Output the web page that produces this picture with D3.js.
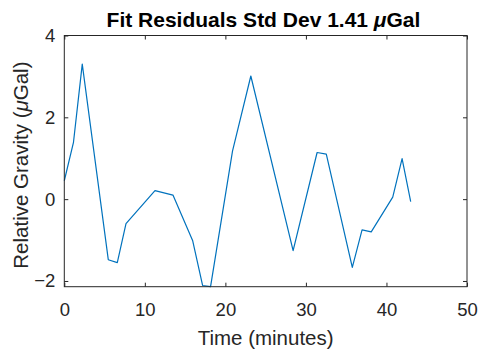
<!DOCTYPE html>
<html><head><meta charset="utf-8">
<script src="https://cdn.jsdelivr.net/npm/d3@7"></script>
<style>
body{margin:0;background:#fff;}
svg{display:block;font-family:"Liberation Sans",Arial,Helvetica,sans-serif;}
</style></head>
<body><svg id="c" width="481" height="351"></svg>
<script>
// Data
const timeMinutes = [0, 1.14, 2.23, 5.46, 6.58, 7.66, 11.26, 13.49, 15.93, 17.17, 18.16, 20.89, 23.16, 28.41, 31.39, 32.53, 35.76, 36.97, 38.11, 40.78, 41.94, 43.01];
const residuals   = [0.45, 1.39, 3.30, -1.48, -1.55, -0.60, 0.21, 0.10, -1.01, -2.11, -2.14, 1.18, 3.01, -1.26, 1.14, 1.10, -1.67, -0.75, -0.80, 0.05, 0.99, -0.06];
const xTicks = [0, 10, 20, 30, 40, 50];
const yTicks = [-2, 0, 2, 4];
const xDomain = [0, 50];
const yDomain = [-2.14, 4];

const svg = d3.select("#c");
const L = 64.3, R = 467, T = 35.5, B = 286.7;
const x = d3.scaleLinear().domain(xDomain).range([L, R]);
const y = d3.scaleLinear().domain(yDomain).range([B, T]);
const axisCol = "#262626";
const tickLen = 4;

svg.append("rect").attr("x", L).attr("y", T).attr("width", R - L).attr("height", B - T)
  .attr("fill", "#fff");

svg.append("path")
  .datum(timeMinutes.map((t, i) => [t, residuals[i]]))
  .attr("fill", "none").attr("stroke", "#0072BD").attr("stroke-width", 1.2)
  .attr("stroke-linejoin", "round")
  .attr("d", d3.line().x(d => x(d[0])).y(d => y(d[1])));

function styleAxis(g, showText) {
  g.select(".domain").remove();
  g.selectAll(".tick line").attr("stroke", axisCol).attr("stroke-width", 1);
  g.selectAll(".tick text").attr("fill", axisCol).attr("font-size", 18.5)
   .attr("font-family", "Liberation Sans, Arial, sans-serif");
  if (!showText) g.selectAll(".tick text").remove();
}

svg.append("g").attr("transform", `translate(0,${B})`)
  .call(d3.axisBottom(x).tickValues(xTicks).tickSize(-tickLen).tickPadding(16).tickFormat(d3.format("d")))
  .call(g => styleAxis(g, true));
svg.append("g").attr("transform", `translate(0,${T})`)
  .call(d3.axisTop(x).tickValues(xTicks).tickSize(-tickLen))
  .call(g => styleAxis(g, false));
svg.append("g").attr("transform", `translate(${L},0)`)
  .call(d3.axisLeft(y).tickValues(yTicks).tickSize(-tickLen).tickPadding(9).tickFormat(d3.format("d")))
  .call(g => styleAxis(g, true));
svg.append("g").attr("transform", `translate(${R},0)`)
  .call(d3.axisRight(y).tickValues(yTicks).tickSize(-tickLen))
  .call(g => styleAxis(g, false));

svg.append("rect").attr("x", L).attr("y", T).attr("width", R - L).attr("height", B - T)
  .attr("fill", "none").attr("stroke", axisCol).attr("stroke-width", 1);

const title = svg.append("text").attr("x", 263.5).attr("y", 27)
  .attr("text-anchor", "middle").attr("font-weight", "bold").attr("font-size", 21).attr("fill", "#000");
title.append("tspan").text("Fit Residuals Std Dev 1.41 ");
title.append("tspan").attr("font-style", "italic").text("μ");
title.append("tspan").text("Gal");

svg.append("text").attr("x", (L + R) / 2).attr("y", 345)
  .attr("text-anchor", "middle").attr("font-size", 20.5).attr("fill", axisCol)
  .text("Time (minutes)");

const yl = svg.append("text").attr("transform", `translate(28,${(T + B) / 2 + 4}) rotate(-90)`)
  .attr("text-anchor", "middle").attr("font-size", 20.5).attr("fill", axisCol);
yl.append("tspan").text("Relative Gravity (");
yl.append("tspan").attr("font-style", "italic").text("μ");
yl.append("tspan").text("Gal)");
</script></body></html>
